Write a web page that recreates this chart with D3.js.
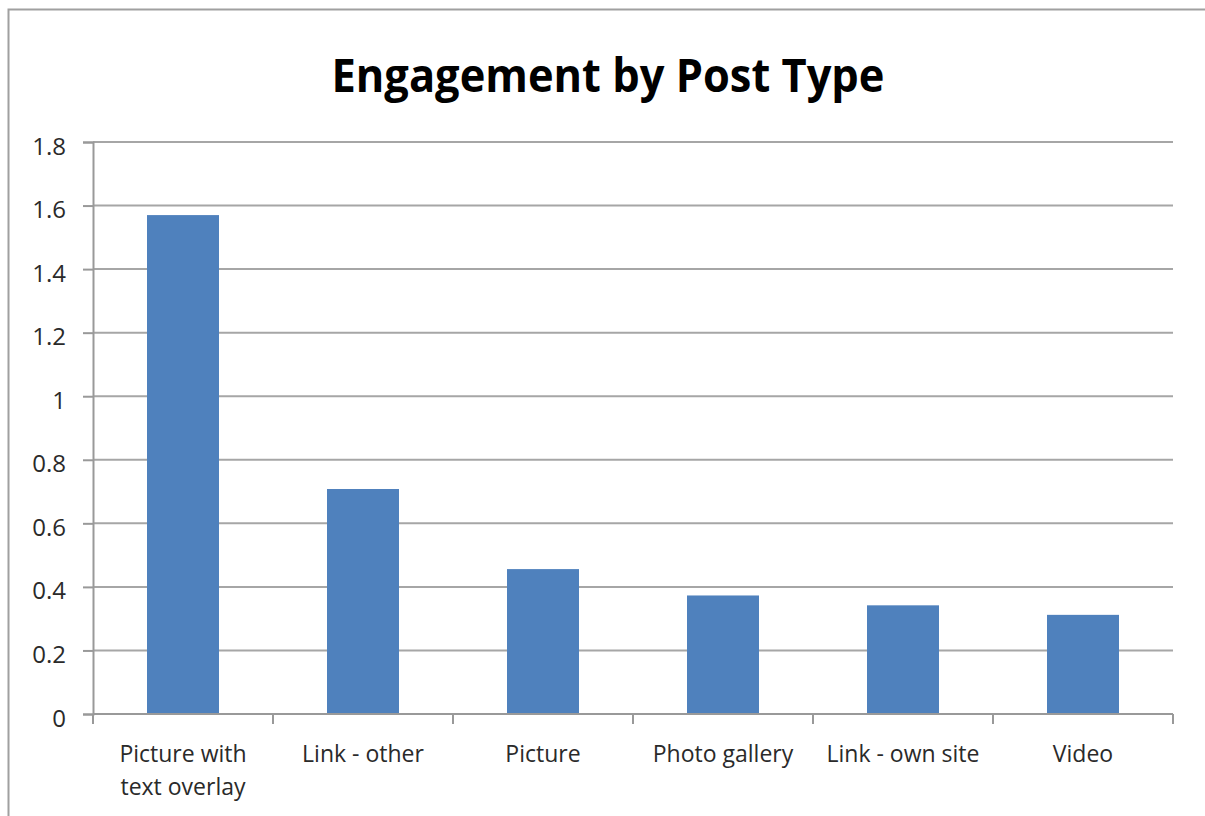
<!DOCTYPE html>
<html>
<head>
<meta charset="utf-8">
<script src="https://cdn.jsdelivr.net/npm/d3@7"></script>
<style>
  html, body { margin: 0; padding: 0; background: #fff; }
  svg { display: block; }
</style>
</head>
<body>
<svg id="chart" width="1205" height="816"></svg>
<script>
const categories = ["Picture with\ntext overlay", "Link - other", "Picture", "Photo gallery", "Link - own site", "Video"];
const values = [1.57, 0.708, 0.456, 0.373, 0.342, 0.312];
const yTicks = [0, 0.2, 0.4, 0.6, 0.8, 1, 1.2, 1.4, 1.6, 1.8];
const title = "Engagement by Post Type";

const svg = d3.select("#chart");
const m = { left: 93, right: 1173, top: 142, bottom: 714 };

// chart frame
svg.append("rect")
  .attr("x", 8.5).attr("y", 9.5)
  .attr("width", 1230).attr("height", 850)
  .attr("fill", "#fff")
  .attr("stroke", "#a0a0a0").attr("stroke-width", 2);

const x = d3.scaleBand().domain(categories).range([m.left, m.right]).paddingInner(0.6).paddingOuter(0.3);
const xb = d3.scaleBand().domain(categories).range([m.left, m.right]).padding(0);
const y = d3.scaleLinear().domain([0, 1.8]).range([m.bottom, m.top]);

// gridlines
svg.append("g")
  .selectAll("line").data(yTicks.filter(d => d > 0)).join("line")
  .attr("x1", m.left).attr("x2", m.right)
  .attr("y1", d => y(d)).attr("y2", d => y(d))
  .attr("stroke", "#a6a6a6").attr("stroke-width", 2);

// bars
svg.append("g")
  .selectAll("rect").data(values).join("rect")
  .attr("x", (d, i) => x(categories[i]))
  .attr("width", x.bandwidth())
  .attr("y", d => y(d))
  .attr("height", d => y(0) - y(d))
  .attr("fill", "#4f81bd");

// y axis
const yAxis = d3.axisLeft(y).tickValues(yTicks).tickFormat(d3.format("~g")).tickSize(10).tickPadding(17);
const gy = svg.append("g").attr("transform", `translate(${m.left},0)`).call(yAxis);
gy.select(".domain").attr("stroke", "#999").attr("stroke-width", 2);
gy.selectAll(".tick line").attr("stroke", "#999").attr("stroke-width", 2);
gy.selectAll(".tick text")
  .attr("font-family", "'Open Sans', 'Noto Sans', sans-serif")
  .attr("font-size", 24).attr("fill", "#2a2a2a").attr("dy", "0.5em");

// x axis
const gx = svg.append("g").attr("transform", `translate(0,${m.bottom})`);
gx.append("line")
  .attr("x1", m.left).attr("x2", m.right).attr("y1", 0).attr("y2", 0)
  .attr("stroke", "#999").attr("stroke-width", 2);
const bounds = categories.map(c => xb(c)).concat([m.right]);
gx.selectAll("line.tk").data(bounds).join("line")
  .attr("class", "tk")
  .attr("x1", d => d).attr("x2", d => d).attr("y1", 0).attr("y2", 10)
  .attr("stroke", "#999").attr("stroke-width", 2);
const lbl = gx.selectAll("text").data(categories).join("text")
  .attr("x", d => xb(d) + xb.bandwidth() / 2)
  .attr("y", 48)
  .attr("text-anchor", "middle")
  .attr("font-family", "'Open Sans', 'Noto Sans', sans-serif")
  .attr("font-size", 23).attr("fill", "#2a2a2a");
lbl.each(function(d) {
  const t = d3.select(this);
  d.split("\n").forEach((line, i) => {
    t.append("tspan").attr("x", xb(d) + xb.bandwidth() / 2).attr("dy", i === 0 ? 0 : 33).text(line);
  });
});

// title
svg.append("text")
  .attr("x", 608).attr("y", 92)
  .attr("text-anchor", "middle")
  .attr("font-family", "'Open Sans', 'Noto Sans', sans-serif")
  .attr("font-weight", "bold")
  .attr("font-size", 46)
  .attr("textLength", 553).attr("lengthAdjust", "spacingAndGlyphs")
  .attr("fill", "#000")
  .text(title);
</script>
</body>
</html>
